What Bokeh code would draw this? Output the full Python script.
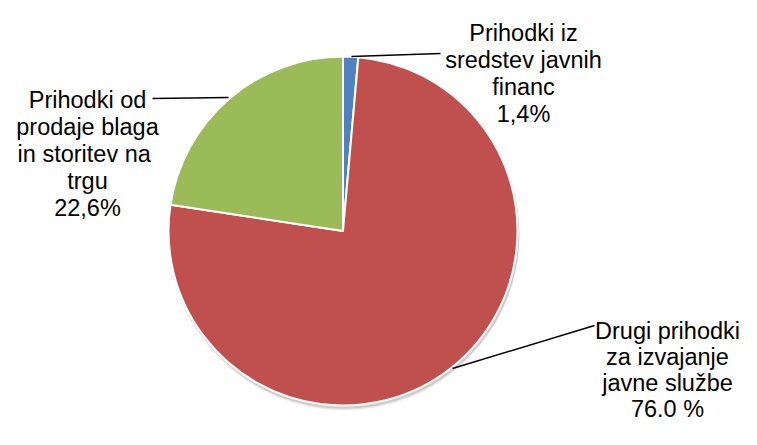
import numpy as np
from bokeh.plotting import figure
from bokeh.models import Range1d, ColumnDataSource
from bokeh.core.properties import value
from bokeh.embed import file_html
from bokeh.resources import INLINE

# ---- data ----
categories = ["Prihodki iz sredstev javnih financ",
              "Drugi prihodki za izvajanje javne službe",
              "Prihodki od prodaje blaga in storitev  na trgu"]
shares = [1.4, 76.0, 22.6]
label_lines = [["Prihodki iz", "sredstev javnih", "financ", "1,4%"],
               ["Drugi prihodki", "za izvajanje", "javne službe", "76.0 %"],
               ["Prihodki od", "prodaje blaga", "in storitev  na", "trgu", "22,6%"]]
colors = ["#4F81BD", "#C0504D", "#9BBB59"]

# ---- layout (pixel-like data coordinates, y up) ----
W, H = 741, 429
def py(y):  # convert picture pixel y to data y
    return H - y

cx, cy, r = 342.5, py(230.5), 174.5

p = figure(width=W, height=H, output_backend="svg", toolbar_location=None,
           x_range=Range1d(0, W), y_range=Range1d(0, H),
           min_border=0, outline_line_color=None, background_fill_color="white",
           border_fill_color="white")
p.xaxis.visible = False
p.yaxis.visible = False
p.grid.visible = False

total = sum(shares)
frac = np.array(shares) / total
ends = np.pi / 2 - 2 * np.pi * np.cumsum(frac)
starts = np.concatenate([[np.pi / 2], ends[:-1]])

# soft shadow
for k, a in [(4, 0.05), (3, 0.07), (2, 0.09)]:
    p.circle(x=cx + 1, y=cy - k, radius=r + 1, fill_color="#000000", fill_alpha=a,
             line_color=None)

src = ColumnDataSource(dict(start=starts, end=ends, color=colors, name=categories))
p.wedge(x=cx, y=cy, radius=r, start_angle="start", end_angle="end", direction="clock",
        fill_color="color", line_color="white", line_width=2, source=src)

# leader lines (pie edge -> label)
leaders = [((351, 56), (440, 53)),
           ((452, 368), (594, 325)),
           ((228, 97), (152, 98))]
for (x0, y0), (x1, y1) in leaders:
    p.line([x0, x1], [py(y0), py(y1)], line_color="black", line_width=1.5)

# labels
anchors = [(523, 32), (667, 330), (87, 99)]
steps = [27, 26, 27]
for (ax, ay), lines, step in zip(anchors, label_lines, steps):
    xs = [ax] * len(lines)
    ys = [py(ay + i * step) for i in range(len(lines))]
    p.text(x=xs, y=ys, text=lines, text_align="center", text_baseline="alphabetic",
           text_font=value("Liberation Sans"), text_font_size="23.5px",
           text_color="black")

open("out.html", "w").write(file_html(p, INLINE))
